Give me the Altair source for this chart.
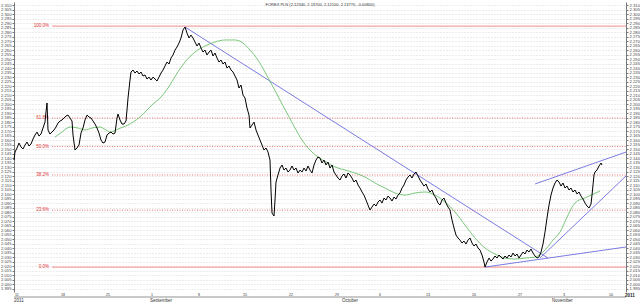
import altair as alt
import pandas as pd

# price series (bar index, close)
bar_idx = [0,1,3,5,7,9,11,13,15,17,19,21,23,25,27,29,31,32,33,34,36,38,40,42,44,46,48,50,52,54,56,58,59,61,63,65,67,69,71,73,75,77,79,81,83,85,87,89,91,93,95,97,99,101,103,104,106,108,110,112,113,114,116,117,119,121,123,125,127,129,131,133,135,137,139,141,143,145,147,149,151,153,155,157,159,161,163,165,167,169,171,173,175,177,179,181,183,185,187,189,191,193,195,197,199,201,203,205,207,209,211,213,215,217,219,221,223,225,227,229,231,233,235,236,238,240,242,244,246,248,250,252,254,256,257,258,260,261,262,264,266,268,270,272,274,276,278,280,282,284,286,288,290,292,294,296,298,300,302,304,306,308,310,312,314,316,318,320,322,324,326,328,330,332,334,336,338,340,342,344,346,348,350,352,354,356,358,360,362,364,366,368,370,372,374,376,378,380,382,384,386,388,390,392,394,396,398,400,402,404,406,408,410,412,414,416,418,420,422,424,426,428,430,432,434,436,438,440,442,444,446,448,450,452,454,456,458,460,462,464,466,468,470,471,473,475,477,479,481,483,485,487,489,491,493,495,497,499,501,503,505,507,509,511,513,515,517,519,521,523,525,527,529,531,533,535,537,539,541,543,545,547,549,551,553,555,557,559,561,563,565,567,569,571,573,575,577,578,579,580,581,583,585,587,588]
close = [2.1378,2.1467,2.1512,2.1567,2.1523,2.1501,2.1545,2.1578,2.1534,2.1556,2.1612,2.1656,2.1689,2.1645,2.1667,2.1734,2.1800,2.1912,2.2012,2.1712,2.1667,2.1689,2.1712,2.1745,2.1789,2.1812,2.1823,2.1845,2.1867,2.1878,2.1845,2.1812,2.1656,2.1489,2.1512,2.1545,2.1678,2.1734,2.1823,2.1878,2.1856,2.1845,2.1812,2.1778,2.1734,2.1678,2.1600,2.1567,2.1578,2.1656,2.1678,2.1689,2.1667,2.1678,2.1845,2.1889,2.1823,2.1778,2.1778,2.1812,2.1934,2.2067,2.2267,2.2356,2.2378,2.2345,2.2367,2.2334,2.2356,2.2312,2.2323,2.2278,2.2300,2.2267,2.2300,2.2278,2.2256,2.2300,2.2345,2.2378,2.2423,2.2467,2.2445,2.2512,2.2545,2.2600,2.2634,2.2678,2.2734,2.2823,2.2856,2.2789,2.2734,2.2767,2.2734,2.2689,2.2645,2.2678,2.2623,2.2578,2.2600,2.2545,2.2578,2.2600,2.2534,2.2567,2.2512,2.2467,2.2489,2.2445,2.2467,2.2400,2.2423,2.2378,2.2356,2.2312,2.2267,2.2178,2.2212,2.2100,2.2067,2.1956,2.1878,2.1734,2.1767,2.1800,2.1712,2.1656,2.1600,2.1545,2.1489,2.1512,2.1467,2.1378,2.1045,2.0789,2.0756,2.0934,2.1134,2.1212,2.1289,2.1323,2.1267,2.1289,2.1245,2.1267,2.1312,2.1267,2.1289,2.1234,2.1267,2.1245,2.1289,2.1256,2.1312,2.1267,2.1234,2.1323,2.1378,2.1412,2.1400,2.1345,2.1378,2.1323,2.1356,2.1289,2.1323,2.1245,2.1212,2.1178,2.1156,2.1201,2.1223,2.1178,2.1234,2.1212,2.1178,2.1134,2.1156,2.1101,2.1067,2.1023,2.0989,2.0934,2.0878,2.0823,2.0856,2.0889,2.0867,2.0912,2.0934,2.0900,2.0956,2.0934,2.0978,2.0956,2.0923,2.0967,2.0945,2.0989,2.1012,2.1067,2.1101,2.1156,2.1189,2.1212,2.1178,2.1223,2.1245,2.1201,2.1156,2.1123,2.1089,2.1112,2.1056,2.1023,2.1045,2.0989,2.0956,2.0900,2.0878,2.0934,2.0956,2.0900,2.0856,2.0823,2.0712,2.0623,2.0545,2.0512,2.0489,2.0456,2.0478,2.0445,2.0489,2.0512,2.0456,2.0423,2.0445,2.0401,2.0378,2.0323,2.0245,2.0189,2.0245,2.0289,2.0256,2.0278,2.0312,2.0289,2.0323,2.0301,2.0278,2.0312,2.0289,2.0323,2.0301,2.0345,2.0312,2.0334,2.0289,2.0323,2.0356,2.0334,2.0378,2.0356,2.0389,2.0345,2.0312,2.0289,2.0301,2.0356,2.0445,2.0578,2.0734,2.0878,2.0989,2.1067,2.1123,2.1156,2.1134,2.1089,2.1123,2.1067,2.1089,2.1045,2.1067,2.1023,2.1045,2.1001,2.1023,2.0978,2.0945,2.0900,2.0867,2.0845,2.0889,2.0989,2.1101,2.1212,2.1245,2.1267,2.1312,2.1345,2.1323]

# moving average
ma_idx = [41,48,56,64,71,78,86,92,96,102,109,114,119,126,133,139,146,154,162,171,181,191,201,211,221,229,236,244,251,258,266,274,281,288,296,304,312,321,331,341,351,361,371,381,391,401,411,421,431,441,451,461,471,481,491,501,511,521,531,539,546,554,561,573,586]
ma_val = [2.1634,2.1689,2.1745,2.1734,2.1712,2.1734,2.1745,2.1712,2.1689,2.1712,2.1745,2.1767,2.1800,2.1856,2.1934,2.2001,2.2067,2.2178,2.2323,2.2467,2.2578,2.2645,2.2689,2.2712,2.2712,2.2678,2.2600,2.2489,2.2356,2.2212,2.2045,2.1878,2.1734,2.1600,2.1489,2.1412,2.1356,2.1301,2.1267,2.1234,2.1189,2.1123,2.1067,2.1012,2.0989,2.1012,2.1023,2.0989,2.0912,2.0801,2.0656,2.0512,2.0401,2.0334,2.0289,2.0278,2.0289,2.0301,2.0378,2.0489,2.0578,2.0767,2.0900,2.0967,2.1034]

# trend lines
tl_x1 = [171, 471, 526, 521]
tl_y1 = [2.2856, 2.0189, 2.0289, 2.1112]
tl_x2 = [534, 612, 612, 612]
tl_y2 = [2.0289, 2.0412, 2.1201, 2.1467]

# fibonacci retracement
fib_low = 2.0189
fib_high = 2.2867
fib_ratios = [0.0, 0.236, 0.382, 0.5, 0.618, 1.0]
fib_labels = ["0.0%", "23.6%", "38.2%", "50.0%", "61.8%", "100.0%"]

week_ticks = [0, 46, 91, 136, 183, 228, 274, 320, 364, 411, 457, 503, 548, 594]
week_labels = ["11", "18", "25", "1", "8", "15", "22", "29", "6", "13", "20", "27", "3", "10"]
month_pos = [136, 328, 538]
month_names = ["September", "October", "November"]
y_ticks = [round(1.995 + 0.005 * k, 3) for k in range(64)]
title_text = "FOREX PLN (2.12340, 2.13700, 2.12100, 2.13770, -0.00800)"

W, H = 612, 290
FONT = "Liberation Sans"

price_df = pd.DataFrame({"i": bar_idx, "v": close})
ma_df = pd.DataFrame({"i": ma_idx, "v": ma_val})
tl_df = pd.DataFrame({"i": tl_x1, "v": tl_y1, "i2": tl_x2, "v2": tl_y2})
fib_df = pd.DataFrame({
    "v": [fib_low + r * (fib_high - fib_low) for r in fib_ratios],
    "lab": fib_labels,
    "solid": [r in (0.0, 1.0) for r in fib_ratios],
    "i": [38] * len(fib_ratios),
    "i2": [W] * len(fib_ratios),
})
week_df = pd.DataFrame({"i": week_ticks, "lab": week_labels})
month_df = pd.DataFrame({"i": month_pos, "lab": month_names})
title_df = pd.DataFrame({"t": [title_text]})

yscale = alt.Scale(domain=[1.9912, 2.3134], nice=False, zero=False)
xscale = alt.Scale(domain=[0, W], nice=False, zero=False)

xaxis = alt.Axis(values=week_ticks, labels=False, tickSize=5, tickColor="#777",
                 domainColor="#777", grid=True, gridColor="#dcdcdc", gridWidth=0.7, title=None)
yaxis_left = alt.Axis(values=y_ticks, format=".3f", orient="left", labelFontSize=4.2,
                      labelFont=FONT, labelColor="#444", labelPadding=1, tickSize=2,
                      tickColor="#777", domainColor="#777", grid=True, gridColor="#c8c8c8",
                      gridDash=[1, 2], gridWidth=0.7, labelOverlap=False, title=None)
yaxis_right = alt.Axis(values=y_ticks, format=".3f", orient="right", labelFontSize=4.2,
                       labelFont=FONT, labelColor="#444", labelPadding=1, tickSize=2,
                       tickColor="#777", domainColor="#777", grid=False,
                       labelOverlap=False, title=None)

X = alt.X("i:Q", scale=xscale, axis=None)
Y = alt.Y("v:Q", scale=yscale, axis=None)

base_grid = alt.Chart(price_df).mark_line(opacity=0).encode(
    x=alt.X("i:Q", scale=xscale, axis=xaxis),
    y=alt.Y("v:Q", scale=yscale, axis=yaxis_left),
)
right_axis = alt.Chart(price_df).mark_line(opacity=0).encode(
    x=X,
    y=alt.Y("v:Q", scale=yscale, axis=yaxis_right),
)

fib_solid = alt.Chart(fib_df).transform_filter("datum.solid").mark_rule(
    color="#f4a0a0", strokeWidth=1.2).encode(x=X, x2="i2:Q", y=Y)
fib_dot = alt.Chart(fib_df).transform_filter("!datum.solid").mark_rule(
    color="#e23c3c", strokeWidth=0.7, strokeDash=[1, 1.5]).encode(x=X, x2="i2:Q", y=Y)
fib_text = alt.Chart(fib_df).mark_text(
    align="right", baseline="middle", fontSize=4.5, font=FONT, color="#e03030").encode(
    x=alt.value(35), y=Y, text="lab:N")

trend = alt.Chart(tl_df).mark_rule(color="#6c6ce0", strokeWidth=0.9).encode(
    x=X, x2="i2:Q", y=Y, y2="v2:Q")

ma_line = alt.Chart(ma_df).mark_line(color="#5cb85c", strokeWidth=0.8, interpolate="monotone").encode(
    x=X, y=Y)

price_line = alt.Chart(price_df).mark_line(color="#000000", strokeWidth=1).encode(x=X, y=Y)

box_bottom = alt.Chart(title_df).mark_rule(color="#777", strokeWidth=0.8).encode(
    x=alt.value(0), x2=alt.value(W), y=alt.value(H + 5))

week_text = alt.Chart(week_df).mark_text(
    align="left", baseline="top", fontSize=3.6, font=FONT, color="#333", dx=1).encode(
    x=X, y=alt.value(H + 1), text="lab:N")
month_text = alt.Chart(month_df).mark_text(
    align="left", baseline="top", fontSize=4.5, font=FONT, color="#333").encode(
    x=X, y=alt.value(H + 6), text="lab:N")
year_left = alt.Chart(title_df).mark_text(
    align="left", baseline="top", fontSize=4.5, font=FONT, color="#333", text="2011").encode(
    x=alt.value(0), y=alt.value(H + 6))
year_right = alt.Chart(title_df).mark_text(
    align="left", baseline="top", fontSize=4.5, font=FONT, color="#222", fontWeight="bold",
    text="2011").encode(x=alt.value(W - 1), y=alt.value(H + 1))

title = alt.Chart(title_df).mark_text(
    align="center", baseline="top", fontSize=4, font=FONT, color="#333").encode(
    x=alt.value(W / 2), y=alt.value(1), text="t:N")

chart = alt.layer(
    base_grid, right_axis, fib_solid, fib_dot, fib_text, trend, ma_line, price_line,
    box_bottom, week_text, month_text, year_left, year_right, title,
).resolve_axis(y="independent").properties(
    width=W, height=H,
    padding={"left": 14, "right": 14, "top": 2, "bottom": 10},
    autosize=alt.AutoSizeParams(type="none"),
    background="white",
).configure_view(strokeWidth=0)

chart.save("out.html", embed_options={"renderer": "svg", "actions": False})
